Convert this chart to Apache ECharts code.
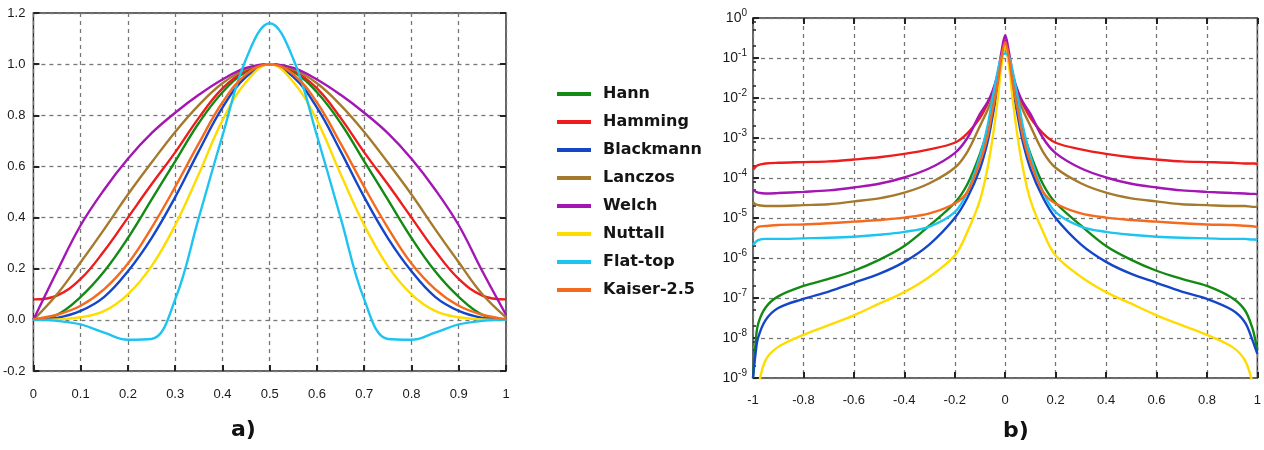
<!DOCTYPE html>
<html>
<head>
<meta charset="utf-8">
<title>Window functions</title>
<script src="https://cdn.jsdelivr.net/npm/echarts@6/dist/echarts.min.js"></script>
<style>
  html, body { margin: 0; padding: 0; background: #fff; }
  #chart { width: 1264px; height: 450px; }
</style>
</head>
<body>
<div id="chart"></div>
<script>
// window names + colours (same order in both panels)
var names = ["Hann", "Hamming", "Blackmann", "Lanczos", "Welch", "Nuttall", "Flat-top", "Kaiser-2.5"];
var colors = ["#138a13", "#ee1c1c", "#1446c8", "#a57a2c", "#a416b4", "#ffdc00", "#1ec4f0", "#f46a1e"];

// a) window shape, x = 0..1
var tA = [0, 0.05, 0.1, 0.15, 0.2, 0.25, 0.3, 0.35, 0.4, 0.45, 0.5, 0.55, 0.6, 0.65, 0.7, 0.75, 0.8, 0.85, 0.9, 0.95, 1];
var hannA = [0, 0.02, 0.09, 0.19, 0.32, 0.47, 0.62, 0.77, 0.89, 0.97, 1, 0.97, 0.89, 0.77, 0.62, 0.47, 0.32, 0.19, 0.09, 0.02, 0];
var hammingA = [0.08, 0.095, 0.16, 0.27, 0.4, 0.53, 0.655, 0.79, 0.905, 0.975, 1, 0.975, 0.905, 0.79, 0.655, 0.53, 0.4, 0.27, 0.16, 0.095, 0.08];
var blackA = [0, 0.008, 0.035, 0.09, 0.19, 0.32, 0.48, 0.66, 0.83, 0.95, 1, 0.95, 0.83, 0.66, 0.48, 0.32, 0.19, 0.09, 0.035, 0.008, 0];
var lanczosA = [0, 0.1, 0.225, 0.355, 0.49, 0.615, 0.735, 0.84, 0.925, 0.98, 1, 0.98, 0.925, 0.84, 0.735, 0.615, 0.49, 0.355, 0.225, 0.1, 0.01];
var welchA = [0, 0.19, 0.37, 0.51, 0.63, 0.73, 0.81, 0.88, 0.94, 0.985, 1, 0.985, 0.94, 0.88, 0.81, 0.73, 0.63, 0.51, 0.37, 0.19, 0.02];
var nuttallA = [0, 0.002, 0.01, 0.035, 0.1, 0.21, 0.37, 0.57, 0.78, 0.93, 1, 0.93, 0.78, 0.57, 0.37, 0.21, 0.1, 0.035, 0.01, 0.002, 0];
var flatA = [0, -0.004, -0.018, -0.05, -0.078, -0.075, 0.08, 0.4, 0.72, 1.02, 1.16, 1.02, 0.72, 0.4, 0.08, -0.075, -0.078, -0.05, -0.018, -0.004, 0];
var kaiserA = [0.003, 0.02, 0.055, 0.12, 0.22, 0.36, 0.52, 0.69, 0.85, 0.96, 1, 0.96, 0.85, 0.69, 0.52, 0.36, 0.22, 0.12, 0.055, 0.02, 0.003];

// b) spectrum (log scale), x = -1..1
var fB = [-1, -0.99, -0.98, -0.95, -0.9, -0.8, -0.7, -0.6, -0.5, -0.4, -0.3, -0.2, -0.15, -0.1, -0.07, -0.05, -0.03, -0.015, 0,
  0.015, 0.03, 0.05, 0.07, 0.1, 0.15, 0.2, 0.3, 0.4, 0.5, 0.6, 0.7, 0.8, 0.9, 0.95, 0.98, 0.99, 1];
var hannB = [1.0e-9, 7e-9, 2.2e-8, 5.8e-8, 1.1e-7, 2.0e-7, 3.0e-7, 4.8e-7, 9.0e-7, 2.0e-6, 6.5e-6, 2.4e-5, 7.0e-5, 4.0e-4, 1.6e-3, 6.3e-3, 2.5e-2, 0.1, 0.24,
  0.1, 2.5e-2, 6.3e-3, 1.6e-3, 4.0e-4, 7.0e-5, 2.4e-5, 6.5e-6, 2.0e-6, 9.0e-7, 4.8e-7, 3.0e-7, 2.0e-7, 1.0e-7, 5e-8, 1.8e-8, 1.0e-8, 5e-9];
var hammingB = [1.6e-4, 1.9e-4, 2.1e-4, 2.3e-4, 2.4e-4, 2.5e-4, 2.6e-4, 2.9e-4, 3.3e-4, 4.0e-4, 5.2e-4, 7.6e-4, 1.3e-3, 3.2e-3, 7.1e-3, 1.4e-2, 3.5e-2, 0.11, 0.28,
  0.11, 3.5e-2, 1.4e-2, 7.1e-3, 3.2e-3, 1.3e-3, 7.6e-4, 5.2e-4, 4.0e-4, 3.3e-4, 2.9e-4, 2.6e-4, 2.5e-4, 2.4e-4, 2.3e-4, 2.3e-4, 2.3e-4, 2.2e-4];
var blackB = [1.0e-9, 4e-9, 1.0e-8, 2.8e-8, 5.6e-8, 9.5e-8, 1.45e-7, 2.4e-7, 4.0e-7, 8.0e-7, 2.2e-6, 1.0e-5, 3.2e-5, 1.7e-4, 7.9e-4, 3.5e-3, 1.8e-2, 7.9e-2, 0.19,
  7.9e-2, 1.8e-2, 3.5e-3, 7.9e-4, 1.7e-4, 3.2e-5, 1.0e-5, 2.2e-6, 8.0e-7, 4.0e-7, 2.4e-7, 1.45e-7, 9.5e-8, 5e-8, 2.5e-8, 9e-9, 6e-9, 4e-9];
var lanczosB = [2.5e-5, 2.2e-5, 2.1e-5, 2.0e-5, 2.0e-5, 2.1e-5, 2.2e-5, 2.6e-5, 3.1e-5, 4.3e-5, 7.4e-5, 1.8e-4, 4.5e-4, 2.0e-3, 5.0e-3, 1.1e-2, 3.2e-2, 0.11, 0.25,
  0.11, 3.2e-2, 1.1e-2, 5.0e-3, 2.0e-3, 4.5e-4, 1.8e-4, 7.4e-5, 4.3e-5, 3.1e-5, 2.6e-5, 2.2e-5, 2.1e-5, 2.0e-5, 2.0e-5, 1.9e-5, 1.9e-5, 1.9e-5];
var welchB = [5.0e-5, 4.6e-5, 4.3e-5, 4.1e-5, 4.2e-5, 4.5e-5, 4.9e-5, 5.8e-5, 7.2e-5, 1.03e-4, 1.75e-4, 4.2e-4, 1.0e-3, 4.0e-3, 7.9e-3, 1.5e-2, 4.0e-2, 0.14, 0.37,
  0.14, 4.0e-2, 1.5e-2, 7.9e-3, 4.0e-3, 1.0e-3, 4.2e-4, 1.75e-4, 1.03e-4, 7.2e-5, 5.8e-5, 4.9e-5, 4.5e-5, 4.2e-5, 4.1e-5, 4.0e-5, 4.0e-5, 3.9e-5];
var nuttallB = [1e-10, 3e-10, 6e-10, 2.8e-9, 6.0e-9, 1.2e-8, 2.1e-8, 3.7e-8, 7.2e-8, 1.4e-7, 3.4e-7, 1.15e-6, 4.5e-6, 2.8e-5, 1.8e-4, 1.0e-3, 8.9e-3, 6.3e-2, 0.2,
  6.3e-2, 8.9e-3, 1.0e-3, 1.8e-4, 2.8e-5, 4.5e-6, 1.15e-6, 3.4e-7, 1.4e-7, 7.2e-8, 3.7e-8, 2.1e-8, 1.2e-8, 6.0e-9, 2.8e-9, 8e-10, 4e-10, 1e-10];
var flatB = [2.1e-6, 2.5e-6, 2.8e-6, 3.0e-6, 3.0e-6, 3.1e-6, 3.2e-6, 3.4e-6, 3.8e-6, 4.5e-6, 6.1e-6, 1.4e-5, 4.5e-5, 3.5e-4, 2.0e-3, 1.0e-2, 4.5e-2, 0.11, 0.13,
  0.11, 4.5e-2, 1.0e-2, 2.0e-3, 3.5e-4, 4.5e-5, 1.4e-5, 6.1e-6, 4.5e-6, 3.8e-6, 3.4e-6, 3.2e-6, 3.1e-6, 3.0e-6, 3.0e-6, 2.9e-6, 2.9e-6, 2.8e-6];
var kaiserB = [4.4e-6, 5.2e-6, 6.0e-6, 6.3e-6, 6.7e-6, 6.9e-6, 7.4e-6, 8.1e-6, 8.9e-6, 1.02e-5, 1.3e-5, 2.3e-5, 4.5e-5, 2.5e-4, 1.1e-3, 5.0e-3, 2.2e-2, 0.1, 0.25,
  0.1, 2.2e-2, 5.0e-3, 1.1e-3, 2.5e-4, 4.5e-5, 2.3e-5, 1.3e-5, 1.02e-5, 8.9e-6, 8.1e-6, 7.4e-6, 6.9e-6, 6.7e-6, 6.4e-6, 6.2e-6, 6.1e-6, 6.0e-6];

// minor ticks of the log axis: 2, 5, 8 x 10^k
var minorB = [];
for (var k = -9; k < 0; k++) {
  [2, 5, 8].forEach(function (m) { minorB.push(m * Math.pow(10, k)); });
}

var seriesA = [hannA, hammingA, blackA, lanczosA, welchA, nuttallA, flatA, kaiserA];
var seriesB = [hannB, hammingB, blackB, lanczosB, welchB, nuttallB, flatB, kaiserB];

var tickFont = "'Liberation Sans', Arial, sans-serif";
var gridLine = { show: true, lineStyle: { color: "#777", type: [4, 4], width: 1.3 } };
var tickIn = { show: true, inside: true, length: 6, lineStyle: { color: "#222", width: 2 } };
var noLine = { show: false, onZero: false };
var labelA = { color: "#1a1a1a", fontSize: 13, fontFamily: tickFont };

function pairs(xs, ys) {
  return xs.map(function (x, i) { return [x, ys[i]]; });
}

var chart = echarts.init(document.getElementById("chart"));

var series = [];
names.forEach(function (n, i) {
  series.push({
    name: n, type: "line", xAxisIndex: 0, yAxisIndex: 0,
    data: pairs(tA, seriesA[i]), smooth: 0.4, showSymbol: false,
    color: colors[i], lineStyle: { width: 2.4 }, clip: true
  });
});
names.forEach(function (n, i) {
  series.push({
    name: n, type: "line", xAxisIndex: 1, yAxisIndex: 2,
    data: pairs(fB, seriesB[i]), smooth: 0.35, showSymbol: false,
    color: colors[i], lineStyle: { width: 2.4 }, clip: true
  });
});

var option = {
  animation: false,
  backgroundColor: "#fff",
  grid: [
    { left: 33, top: 13, width: 473, height: 358, show: true, borderColor: "#333", borderWidth: 1.5 },
    { left: 753, top: 18, width: 506, height: 360, show: true, borderColor: "#333", borderWidth: 1.5 }
  ],
  legend: {
    orient: "vertical", left: 557, top: 84, padding: 0,
    data: names, icon: "rect", itemWidth: 34, itemHeight: 4, itemGap: 8,
    textStyle: { fontSize: 16, fontWeight: "bold", fontFamily: "'DejaVu Sans', sans-serif", color: "#151515", lineHeight: 20, padding: [0, 0, 0, 7] }
  },
  xAxis: [
    {
      gridIndex: 0, type: "value", min: 0, max: 1, interval: 0.1,
      axisLine: noLine, axisTick: tickIn, splitLine: gridLine,
      axisLabel: Object.assign({ margin: 17 }, labelA)
    },
    {
      gridIndex: 1, type: "value", min: -1, max: 1, interval: 0.2,
      axisLine: noLine, axisTick: tickIn, splitLine: gridLine,
      axisLabel: Object.assign({ margin: 16 }, labelA)
    },
    {
      gridIndex: 1, type: "value", position: "top", min: -1, max: 1, interval: 0.2,
      axisLine: noLine, axisTick: tickIn, splitLine: { show: false },
      axisLabel: { show: false }
    }
  ],
  yAxis: [
    {
      gridIndex: 0, type: "value", min: -0.2, max: 1.2, interval: 0.2,
      axisLine: noLine, axisTick: tickIn, splitLine: gridLine,
      axisLabel: Object.assign({ margin: 8, formatter: function (v) { return v.toFixed(1); } }, labelA)
    },
    {
      gridIndex: 0, type: "value", position: "right", min: -0.2, max: 1.2, interval: 0.2,
      axisLine: noLine, axisTick: tickIn, splitLine: { show: false },
      axisLabel: { show: false }
    },
    {
      gridIndex: 1, type: "log", logBase: 10, min: 1e-9, max: 1, splitNumber: 9,
      axisLine: noLine, axisTick: tickIn, splitLine: gridLine,
      axisLabel: {
        margin: 6,
        formatter: function (v) { return "{b|10}{e|" + Math.round(Math.log10(v)) + "}"; },
        rich: {
          b: { fontSize: 14, lineHeight: 20, fontFamily: tickFont, color: "#1a1a1a" },
          e: { fontSize: 10, lineHeight: 10, verticalAlign: "top", fontFamily: tickFont, color: "#1a1a1a" }
        }
      }
    },
    {
      gridIndex: 1, type: "log", logBase: 10, min: 1e-9, max: 1, position: "left",
      axisLine: noLine, splitLine: { show: false }, axisLabel: { show: false },
      axisTick: { show: true, inside: true, length: 3, customValues: minorB, lineStyle: { color: "#222", width: 1.5 } }
    }
  ],
  graphic: [
    { type: "text", left: 231, top: 419, style: { text: "a)", fontSize: 22, fontWeight: "bold", fontFamily: "'DejaVu Sans', sans-serif", fill: "#111" } },
    { type: "text", left: 1003, top: 420, style: { text: "b)", fontSize: 22, fontWeight: "bold", fontFamily: "'DejaVu Sans', sans-serif", fill: "#111" } }
  ],
  series: series
};

chart.setOption(option);
</script>
</body>
</html>
